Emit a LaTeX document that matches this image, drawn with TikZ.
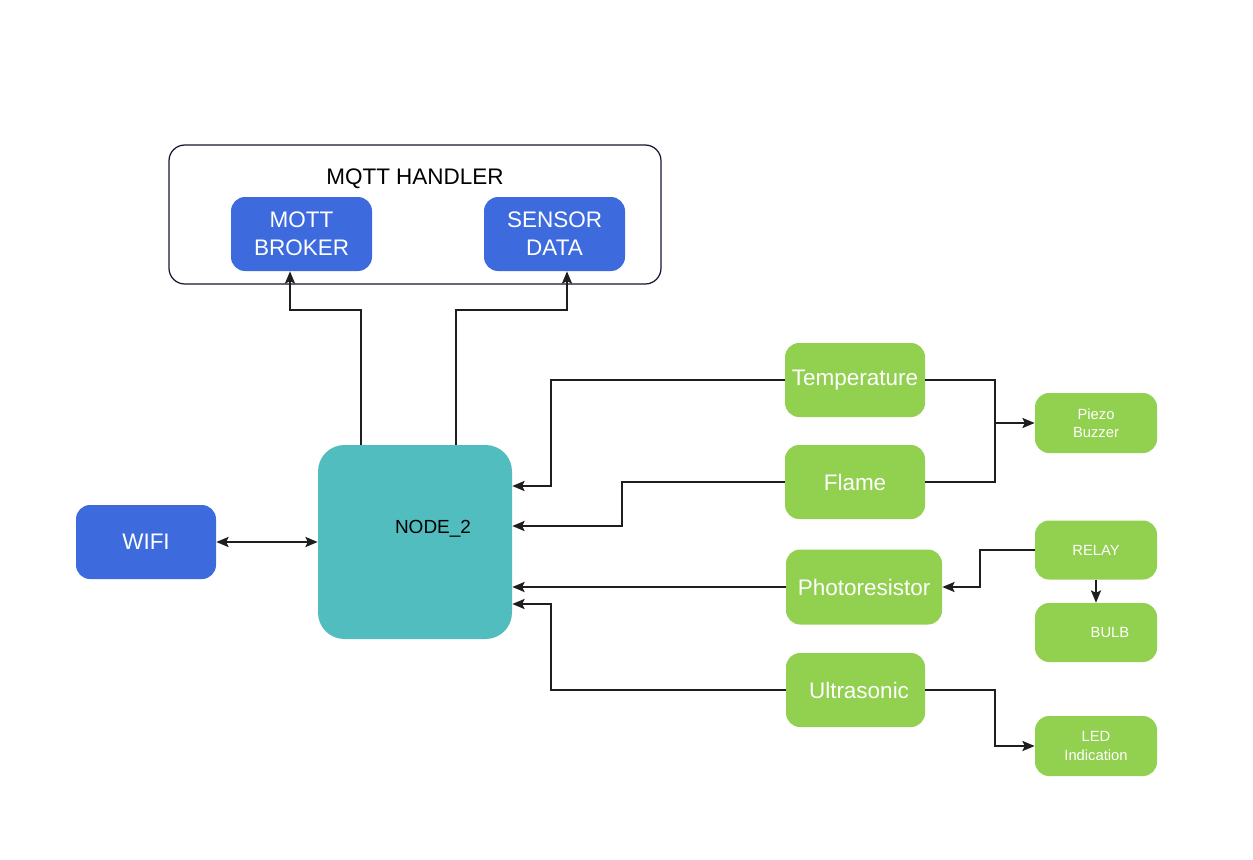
\documentclass[tikz,border=0pt]{standalone}
\usepackage{fontspec}
\setmainfont{Liberation Sans}
\usetikzlibrary{arrows.meta}
\definecolor{cblue}{RGB}{61,107,222}
\definecolor{cteal}{RGB}{82,189,191}
\definecolor{cgreen}{RGB}{146,208,80}
\definecolor{cnavy}{RGB}{20,22,50}
\definecolor{cline}{RGB}{30,30,30}
\begin{document}
\begin{tikzpicture}[x=0.02cm,y=-0.02cm,
  box/.style={rounded corners=8pt,draw=none,inner sep=0pt,align=center,text=white,font=\fontsize{12.8}{16}\selectfont},
  bluebox/.style={box,fill=cblue},
  greenbox/.style={box,fill=cgreen},
  smallbox/.style={box,fill=cgreen,rounded corners=8pt,font=\fontsize{8.4}{10.3}\selectfont},
  tip/.style={},
  conn/.style={draw=cline,line width=0.75pt},
  arr/.style={conn,-{Stealth[length=7pt,width=5.8pt,inset=1.4pt]}},
  darr/.style={conn,{Stealth[length=7pt,width=5.8pt,inset=1.4pt]}-{Stealth[length=7pt,width=5.8pt,inset=1.4pt]}}
]
\useasboundingbox (0,0) rectangle (1253,859);
\fill[white] (0,0) rectangle (1253,859);

% MQTT handler container
\node[draw=cnavy,line width=0.7pt,rounded corners=9pt,minimum width=492*0.02cm,minimum height=139*0.02cm,inner sep=0pt] (handler) at (415,214.5) {};
\node[font=\fontsize{12.8}{14.5}\selectfont,inner sep=0pt] (hlabel) at (415,179) {MQTT HANDLER};
\node[bluebox,minimum width=141*0.02cm,minimum height=74*0.02cm] (mott) at (301.5,234) {MOTT\\BROKER};
\node[bluebox,minimum width=141*0.02cm,minimum height=74*0.02cm] (sensor) at (554.5,234) {SENSOR\\DATA};

% NODE_2 and WIFI
\node[box,fill=cteal,rounded corners=15pt,minimum width=194*0.02cm,minimum height=194*0.02cm] (node2) at (415,542) {};
\node[font=\fontsize{10.8}{12}\selectfont,inner sep=0pt] (n2label) at (433,529) {NODE\_2};
\node[bluebox,minimum width=140*0.02cm,minimum height=74*0.02cm] (wifi) at (146,542) {WIFI};

% sensors
\node[greenbox,minimum width=140*0.02cm,minimum height=74*0.02cm] (temp) at (855,380) {Temperature};
\node[greenbox,minimum width=140*0.02cm,minimum height=74*0.02cm] (flame) at (855,482) {Flame};
\node[greenbox,minimum width=156*0.02cm,minimum height=75*0.02cm] (photo) at (864,587) {Photoresistor};
\node[greenbox,minimum width=139*0.02cm,minimum height=74*0.02cm] (ultra) at (855.5,690) {};
\node[font=\fontsize{12.8}{14.5}\selectfont,text=white,inner sep=0pt] (ultralabel) at (859,690) {Ultrasonic};

% actuators
\node[smallbox,minimum width=122*0.02cm,minimum height=60*0.02cm] (piezo) at (1096,423) {Piezo\\Buzzer};
\node[smallbox,minimum width=122*0.02cm,minimum height=59*0.02cm] (relay) at (1096,550) {RELAY};
\node[smallbox,minimum width=122*0.02cm,minimum height=59*0.02cm] (bulb) at (1096,632.5) {};
\node[font=\fontsize{8.4}{10.5}\selectfont,text=white,inner sep=0pt] (bulblabel) at (1110,632) {BULB};
\node[smallbox,minimum width=122*0.02cm,minimum height=60*0.02cm] (led) at (1096,746) {LED\\Indication};

% node2 edge points
\coordinate (n2t1) at (node2.north -| 361,0);
\coordinate (n2t2) at (node2.north -| 456,0);
\coordinate (n2r1) at (node2.east |- 0,486);
\coordinate (n2r2) at (node2.east |- 0,526);
\coordinate (n2r3) at (node2.east |- 0,587);
\coordinate (n2r4) at (node2.east |- 0,604);
\coordinate (mottb) at (mott.south -| 290,0);
\coordinate (sensb) at (sensor.south -| 567,0);

% connectors
\draw[arr] (n2t1) -- (361,310) -| (mottb);
\draw[arr] (n2t2) -- (456,310) -| (sensb);
\draw[darr] (wifi.east) -- (node2.west);
\draw[arr] (temp.west) -| (551,486) -- (n2r1);
\draw[arr] (flame.west) -| (622,526) -- (n2r2);
\draw[arr] (photo.west) -- (n2r3);
\draw[arr] (ultra.west) -| (551,604) -- (n2r4);
\draw[conn] (temp.east) -| (995,423);
\draw[conn] (flame.east) -| (995,423);
\draw[arr] (995,423) -- (piezo.west);
\draw[arr] (relay.west) -| (980,587) -- (photo.east);
\draw[arr] (relay.south) -- (bulb.north);
\draw[arr] (ultra.east) -| (995,746) -- (led.west);
\end{tikzpicture}
\end{document}
